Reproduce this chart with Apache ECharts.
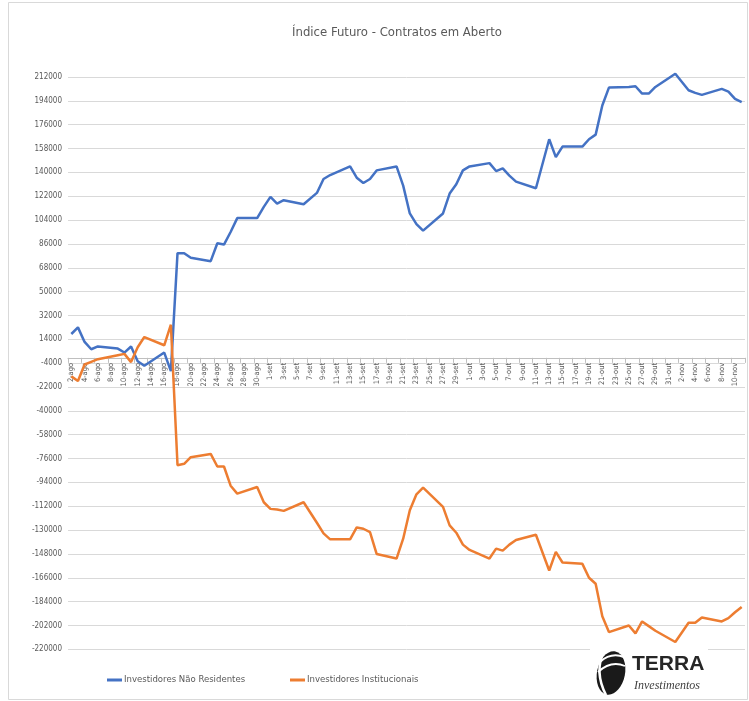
<!DOCTYPE html>
<html><head><meta charset="utf-8">
<script src="https://cdn.jsdelivr.net/npm/echarts@6/dist/echarts.min.js"></script>
<style>html,body{margin:0;padding:0;background:#fff}#c{width:749px;height:701px}</style>
</head><body><div id="c"></div>
<script>
// ---- data ----
const startDate = [2021, 7, 2];   // 2-ago-2021
const endDate = [2021, 10, 11];   // 11-nov-2021
const monthNames = ['jan','fev','mar','abr','mai','jun','jul','ago','set','out','nov','dez'];

const tradeDays = ['2-ago','3-ago','4-ago','5-ago','6-ago','9-ago','10-ago','11-ago','12-ago','13-ago',
  '16-ago','17-ago','18-ago','19-ago','20-ago','23-ago','24-ago','25-ago','26-ago','27-ago','30-ago','31-ago',
  '1-set','2-set','3-set','6-set','8-set','9-set','10-set','13-set','14-set','15-set','16-set','17-set',
  '20-set','21-set','22-set','23-set','24-set','27-set','28-set','29-set','30-set',
  '1-out','4-out','5-out','6-out','7-out','8-out','11-out','13-out','14-out','15-out','18-out','19-out','20-out',
  '21-out','22-out','25-out','26-out','27-out','28-out','29-out',
  '1-nov','3-nov','4-nov','5-nov','8-nov','9-nov','10-nov','11-nov'];

const naoResidentes = [18000,23000,12000,6500,8600,7000,4000,8600,-2500,-6000,
  4000,-10000,79000,79000,75500,73000,86500,85500,95000,105500,105500,114000,
  121500,116500,119000,116000,124500,135000,138000,144500,136000,132000,135000,141500,
  144500,130000,109000,101000,96000,109000,124000,131000,141500,
  144500,147000,141000,143000,137500,133000,128000,165000,151500,159500,159500,165000,168500,
  190500,204000,204500,205000,199500,199500,204500,
  214500,202000,200000,198500,203000,201000,195500,193000];

const institucionais = [-14000,-17500,-5000,-3000,-1000,2000,3000,-3200,8000,15700,
  9500,25000,-81000,-80000,-75000,-72500,-82000,-82000,-96500,-102500,-97500,-109000,
  -114000,-114500,-115500,-109000,-124500,-132500,-137000,-137000,-128000,-129000,-131500,-148000,
  -151500,-136500,-115000,-103000,-98000,-112500,-126500,-132000,-141000,
  -145000,-151500,-144000,-145500,-141000,-137500,-133500,-160500,-146500,-154500,-155500,-166000,-170500,
  -195000,-207000,-202000,-208000,-199000,-202500,-206000,
  -214500,-200000,-200000,-196000,-199000,-196500,-192000,-188000];

const yTicks = [212000,194000,176000,158000,140000,122000,104000,86000,68000,50000,32000,14000,-4000,
  -22000,-40000,-58000,-76000,-94000,-112000,-130000,-148000,-166000,-184000,-202000,-220000];

const titleText = 'Índice Futuro - Contratos em Aberto';
const seriesNames = ['Investidores Não Residentes', 'Investidores Institucionais'];

// ---- build calendar categories ----
const categories = [];
{
  const d = new Date(startDate[0], startDate[1], startDate[2]);
  const e = new Date(endDate[0], endDate[1], endDate[2]);
  while (d <= e) {
    categories.push(d.getDate() + '-' + monthNames[d.getMonth()]);
    d.setDate(d.getDate() + 1);
  }
}

const FONT = "'Liberation Sans Narrow', 'DejaVu Sans Condensed', 'Roboto', sans-serif";
const Y_MIN = -220000, Y_MAX = 216000;
const GRID = {left: 68, right: 4, top: 71.7, bottom: 51.7};
const plotH = 701 - GRID.top - GRID.bottom;
const zeroOffset = -(plotH * (0 - Y_MIN) / (Y_MAX - Y_MIN));  // move x axis up to value 0

const chart = echarts.init(document.getElementById('c'), null, {renderer: 'canvas'});
chart.setOption({
  backgroundColor: '#fff',
  animation: false,
  textStyle: {fontFamily: FONT},
  title: {
    text: titleText, left: 392, top: 21, textAlign: 'center',
    textStyle: {fontFamily: FONT, fontSize: 13, fontWeight: 'normal', color: '#595959'}
  },
  legend: [
    {data: [seriesNames[0]], left: 107, top: 675, padding: 0, icon: 'rect', itemWidth: 15, itemHeight: 3,
     textStyle: {fontFamily: FONT, fontSize: 9.5, color: '#595959', padding: [0, 0, 0, -3]}},
    {data: [seriesNames[1]], left: 290, top: 675, padding: 0, icon: 'rect', itemWidth: 15, itemHeight: 3,
     textStyle: {fontFamily: FONT, fontSize: 9.5, color: '#595959', padding: [0, 0, 0, -3]}}
  ],
  grid: Object.assign({containLabel: false}, GRID),
  xAxis: {
    type: 'category', data: categories, boundaryGap: true, position: 'bottom', offset: zeroOffset,
    axisLine: {onZero: false, lineStyle: {color: '#bfbfbf', width: 1}},
    axisTick: {show: true, interval: 1, length: 5, lineStyle: {color: '#bfbfbf'}},
    axisLabel: {interval: 1, rotate: 90, fontSize: 7.5, color: '#595959', margin: 5, fontFamily: FONT},
    splitLine: {show: false}
  },
  yAxis: {
    type: 'value', min: Y_MIN, max: Y_MAX,
    axisLine: {show: false},
    axisTick: {show: false, customValues: yTicks},
    axisLabel: {customValues: yTicks, fontSize: 8, color: '#595959', margin: 6, fontFamily: FONT,
                formatter: v => String(v)},
    splitLine: {show: true, lineStyle: {color: '#d9d9d9', width: 1}}
  },
  series: [
    {name: seriesNames[0], type: 'line', symbol: 'none', color: '#4472C4',
     lineStyle: {width: 2.5, color: '#4472C4'}, clip: false,
     data: tradeDays.map((d, i) => [d, naoResidentes[i]])},
    {name: seriesNames[1], type: 'line', symbol: 'none', color: '#ED7D31',
     lineStyle: {width: 2.5, color: '#ED7D31'}, clip: false,
     data: tradeDays.map((d, i) => [d, institucionais[i]])}
  ],
  graphic: [
    {type: 'rect', shape: {x: 8.5, y: 2.5, width: 739, height: 697}, silent: true,
     style: {fill: 'none', stroke: '#d9d9d9', lineWidth: 1}, z: -10},
    {type: 'rect', shape: {x: 590, y: 644, width: 118, height: 54}, style: {fill: '#fff'}, z: 50},
    {type: 'ellipse', shape: {cx: 611, cy: 673, rx: 14, ry: 22}, rotation: -0.2, originX: 611, originY: 673,
     style: {fill: '#1a1a1a'}, z: 51},
    {type: 'bezierCurve', shape: {x1: 604, y1: 651, cpx1: 594, cpy1: 672, x2: 606, y2: 695},
     style: {fill: 'none', stroke: '#fff', lineWidth: 2.5}, z: 52},
    {type: 'bezierCurve', shape: {x1: 600, y1: 662, cpx1: 611, cpy1: 652, x2: 624, y2: 657},
     style: {fill: 'none', stroke: '#fff', lineWidth: 2}, z: 52},
    {type: 'bezierCurve', shape: {x1: 598, y1: 672, cpx1: 611, cpy1: 660, x2: 625, y2: 666},
     style: {fill: 'none', stroke: '#fff', lineWidth: 1.8}, z: 52},
    {type: 'text', x: 632, y: 664, z: 52,
     style: {text: 'TERRA', font: "bold 21px 'Liberation Sans', 'DejaVu Sans', sans-serif", fill: '#262626', textVerticalAlign: 'middle'}},
    {type: 'text', x: 634, y: 686, z: 52,
     style: {text: 'Investimentos', font: "italic 12px 'Liberation Serif', 'DejaVu Serif', serif", fill: '#404040', textVerticalAlign: 'middle'}}
  ]
});
</script></body></html>
